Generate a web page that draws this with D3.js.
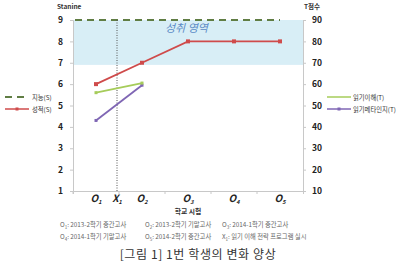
<!DOCTYPE html>
<html>
<head>
<meta charset="utf-8">
<script src="https://cdn.jsdelivr.net/npm/d3@7"></script>
<style>
  body { margin: 0; background: #fff; }
  svg text { font-family: "Noto Sans CJK KR", "Noto Sans", sans-serif; }
</style>
</head>
<body>
<div id="chart"></div>
<script>
// data
var exams = ["O1", "O2", "O3", "O4", "O5"]
var grades = [6, 7, 8, 8, 8]            // 성적(S), stanine
var comprehension = [56, 60.5]          // 읽기이해(T)
var metacognition = [43, 59.5]          // 읽기메타인지(T)
var intelligence = 9                    // 지능(S)
var stanineTicks = [1, 2, 3, 4, 5, 6, 7, 8, 9]
var tTicks = [10, 20, 30, 40, 50, 60, 70, 80, 90]
var notes = [
    ["1", "2013-2학기 중간고사"], ["2", "2013-2학기 기말고사"], ["3", "2014-1학기 중간고사"],
    ["4", "2014-1학기 기말고사"], ["5", "2014-2학기 중간고사"], ["X1", "읽기 이해 전략 프로그램 실시"]
]

var width = 400
var height = 266
var margins = { top: 20, right: 97, bottom: 75, left: 73 }

const red = "#cf4b4b"
const green = "#a6cc5a"
const purple = "#7f66b4"
const olive = "#607d44"

var svg = d3.select("#chart").append("svg")
    .attr("width", width)
    .attr("height", height)

var x = d3.scaleBand()
    .domain(exams)
    .range([margins.left, width - margins.right])
var y = d3.scaleLinear()
    .domain([1, 9])
    .range([height - margins.bottom, margins.top])
var yT = d3.scaleLinear()
    .domain([10, 90])
    .range([height - margins.bottom, margins.top])
var cx = d => x(d) + x.bandwidth() / 2

// 성취 영역 band
svg.append("rect")
    .attr("x", margins.left)
    .attr("y", y(9))
    .attr("width", width - margins.right - margins.left)
    .attr("height", y(6.9) - y(9))
    .attr("fill", "#d8eef6")

svg.append("text")
    .attr("x", cx("O3") - 23)
    .attr("y", y(8.42))
    .attr("fill", "#5b8ac6")
    .attr("font-size", 11)
    .attr("font-style", "italic")
    .text("성취 영역")

// axes
var leftAxis = svg.append("g")
    .attr("transform", `translate(${margins.left},0)`)
    .call(d3.axisLeft(y).tickValues(stanineTicks).tickSize(3).tickPadding(7))
var rightAxis = svg.append("g")
    .attr("transform", `translate(${width - margins.right},0)`)
    .call(d3.axisRight(yT).tickValues(tTicks).tickSize(3).tickPadding(6))
var bottomAxis = svg.append("g")
    .attr("transform", `translate(0,${y(1)})`)
    .call(d3.axisBottom(x).tickSize(3).tickFormat(""))
bottomAxis.selectAll(".tick line").attr("transform", `translate(${-x.bandwidth() / 2},0)`)

svg.selectAll(".domain").attr("stroke", "#c8c8c8")
svg.selectAll(".tick line").attr("stroke", "#c8c8c8")
leftAxis.selectAll("text").attr("font-size", 8.5).attr("font-weight", "bold").attr("fill", "#222")
rightAxis.selectAll("text").attr("font-size", 8.5).attr("font-weight", "bold").attr("fill", "#222")

svg.append("text").attr("x", 57).attr("y", 9)
    .attr("font-size", 6.5).attr("font-weight", "bold").attr("fill", "#333").text("Stanine")
svg.append("text").attr("x", 304).attr("y", 9)
    .attr("font-size", 6.5).attr("font-weight", "bold").attr("fill", "#333").text("T점수")

// dashed intelligence line
svg.append("line")
    .attr("x1", margins.left + 2)
    .attr("x2", cx("O5"))
    .attr("y1", y(intelligence))
    .attr("y2", y(intelligence))
    .attr("stroke", olive)
    .attr("stroke-width", 2)
    .attr("stroke-dasharray", "7,5")

// programme marker
var xProgram = x("O2") - 2
svg.append("line")
    .attr("x1", xProgram).attr("x2", xProgram)
    .attr("y1", y(9)).attr("y2", y(1))
    .attr("stroke", "#555")
    .attr("stroke-width", 1)
    .attr("stroke-dasharray", "1,1.5")

// series
var lineS = d3.line().x((d, i) => cx(exams[i])).y(d => y(d))
var lineT = d3.line().x((d, i) => cx(exams[i])).y(d => yT(d))

svg.append("path").datum(comprehension)
    .attr("d", lineT).attr("fill", "none").attr("stroke", green).attr("stroke-width", 1.8)
svg.append("path").datum(metacognition)
    .attr("d", lineT).attr("fill", "none").attr("stroke", purple).attr("stroke-width", 1.8)
svg.selectAll(".meta-pt").data(metacognition).enter().append("rect")
    .attr("class", "meta-pt")
    .attr("x", (d, i) => cx(exams[i]) - 1.5).attr("y", d => yT(d) - 1.5)
    .attr("width", 3).attr("height", 3).attr("fill", purple)
svg.selectAll(".comp-pt").data(comprehension).enter().append("rect")
    .attr("class", "comp-pt")
    .attr("x", (d, i) => cx(exams[i]) - 1.5).attr("y", d => yT(d) - 1.5)
    .attr("width", 3).attr("height", 3).attr("fill", green)

svg.append("path").datum(grades)
    .attr("d", lineS).attr("fill", "none").attr("stroke", red).attr("stroke-width", 1.8)
svg.selectAll(".grade-pt").data(grades).enter().append("rect")
    .attr("class", "grade-pt")
    .attr("x", (d, i) => cx(exams[i]) - 2).attr("y", d => y(d) - 2)
    .attr("width", 4).attr("height", 4).attr("fill", red)

// x labels with subscripts
function subLabel(g, xPos, letter, sub) {
    var t = g.append("text")
        .attr("x", xPos)
        .attr("y", y(1) + 11)
        .attr("text-anchor", "middle")
        .attr("font-family", "Liberation Sans, sans-serif")
        .attr("font-style", "italic")
        .attr("font-weight", "bold")
        .attr("font-size", 10)
        .attr("fill", "#222")
    t.append("tspan").text(letter)
    t.append("tspan").attr("font-size", 5.5).attr("dy", 2).text(sub)
}
exams.forEach(e => subLabel(svg, cx(e), "O", e.slice(1)))
subLabel(svg, xProgram, "X", "1")

svg.append("text")
    .attr("x", cx("O3"))
    .attr("y", y(1) + 23)
    .attr("text-anchor", "middle")
    .attr("font-size", 6.8)
    .attr("font-weight", "bold")
    .attr("fill", "#333")
    .text("학교 시험")

// notes under the chart
var noteX = [60, 145, 222]
notes.forEach(function(n, i) {
    var t = svg.append("text")
        .attr("x", noteX[i % 3])
        .attr("y", 227 + Math.floor(i / 3) * 12)
        .attr("font-size", 6.3)
        .attr("fill", "#666")
    var letter = n[0] == "X1" ? "X" : "O"
    var sub = n[0] == "X1" ? "1" : n[0]
    t.append("tspan").text(letter)
    t.append("tspan").attr("font-size", 4.5).attr("dy", 1.5).text(sub)
    t.append("tspan").attr("dy", -1.5).text(": " + n[1])
})

// legends
function legendItem(lx, ly, color, dashed, marker, label, textX) {
    svg.append("line")
        .attr("x1", lx).attr("x2", lx + 24)
        .attr("y1", ly).attr("y2", ly)
        .attr("stroke", color).attr("stroke-width", dashed ? 2 : 1.5)
        .attr("stroke-dasharray", dashed ? "7,5" : null)
    if (marker) {
        svg.append("rect")
            .attr("x", lx + 10.5).attr("y", ly - 1.5)
            .attr("width", 3).attr("height", 3).attr("fill", color)
    }
    svg.append("text")
        .attr("x", textX).attr("y", ly + 2.5)
        .attr("font-size", 6.3).attr("fill", "#333")
        .text(label)
}
legendItem(5, 97, olive, true, false, "지능(S)", 32)
legendItem(5, 109, red, false, true, "성적(S)", 32)
legendItem(327, 97, green, false, false, "읽기이해(T)", 353)
legendItem(327, 109, purple, false, true, "읽기메타인지(T)", 353)

// caption
svg.append("text")
    .attr("x", 198)
    .attr("y", 259)
    .attr("text-anchor", "middle")
    .attr("font-size", 12)
    .attr("letter-spacing", 0.6)
    .attr("fill", "#333")
    .text("[그림 1] 1번 학생의 변화 양상")
</script>
</body>
</html>
